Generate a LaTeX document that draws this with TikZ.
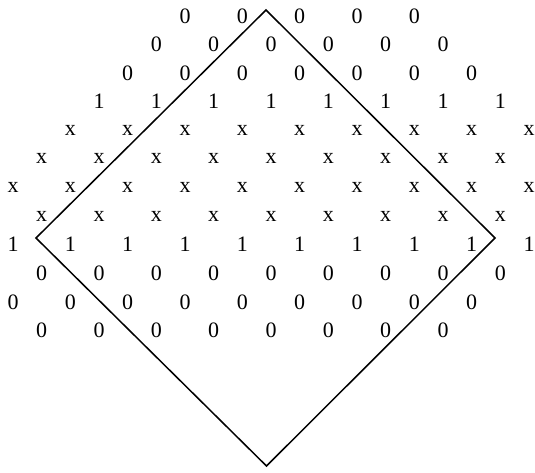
\documentclass[tikz,border=0pt]{standalone}
\usepackage{fontspec}
\setmainfont{Liberation Serif}
\begin{document}
\begin{tikzpicture}[x=1pt,y=-1pt,
  cell/.style={inner sep=0pt, font=\fontsize{22}{22}\selectfont},
  frame/.style={line width=1.5pt, line join=miter}]
\useasboundingbox (0,0) rectangle (535,472);
\foreach \r/\a/\b/\s in {1/6/14/0, 2/5/15/0, 3/4/16/0, 4/3/17/1, 5/2/18/x, 6/1/17/x,
    7/0/18/x, 8/1/17/x, 9/0/18/1, 10/1/17/0, 11/0/16/0, 12/1/15/0} {
  \pgfmathtruncatemacro\an{\a+2}
  \foreach \k in {\a,\an,...,\b} {
    \node[cell] (n\r-\k) at ({13+28.67*\k},{15.8+28.6*(\r-1)}) {\s};
  }
}
\coordinate (top) at (266,10);
\coordinate (left) at (36,238);
\coordinate (bottom) at (266.5,466);
\coordinate (right) at (495,238);
\draw[frame] (top) -- (right) -- (bottom) -- (left) -- cycle;
\end{tikzpicture}
\end{document}
